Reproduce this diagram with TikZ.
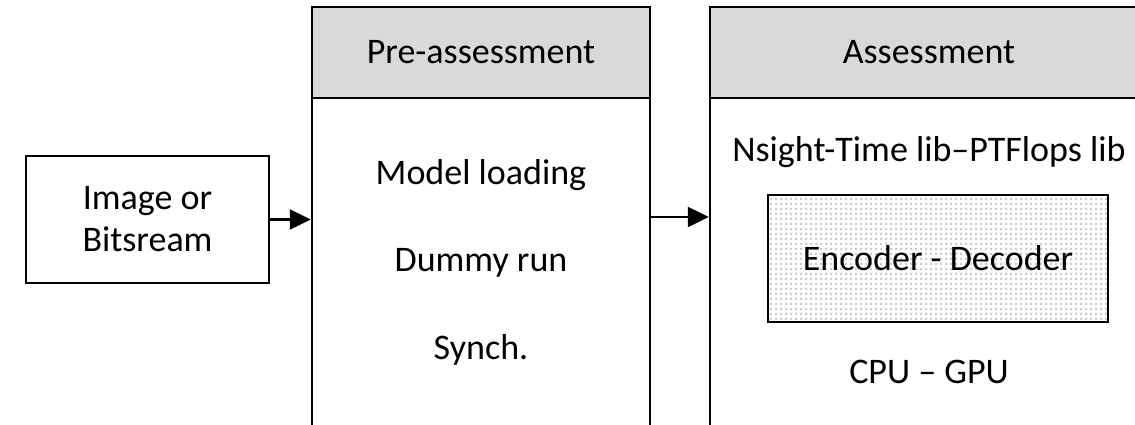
\documentclass[tikz,border=0pt]{standalone}
\usepackage{fontspec}
\setmainfont{Carlito}
\usetikzlibrary{arrows.meta,patterns.meta}
\tikzdeclarepattern{name=smalldots,type=uncolored,bounding box={(0pt,0pt) and (5pt,5pt)},tile size={(5pt,5pt)},code={\fill (0pt,0pt) rectangle (2.5pt,2.5pt);}}
\begin{document}
\begin{tikzpicture}[x=1pt,y=-1pt,
  every node/.style={font=\fontsize{36}{42}\selectfont, inner sep=0pt},
  frame/.style={draw=black, line width=2.5pt},
  hdr/.style={frame, fill=black!15, minimum height=91pt},
  colbody/.style={frame, fill=white},
  inbox/.style={frame, fill=white, align=center},
  dotbox/.style={frame, fill=white, pattern=smalldots, pattern color=black!20},
  flow/.style={line width=2.5pt, -{Triangle[length=21pt,width=20pt]}}]
\useasboundingbox (0,0) rectangle (1135,424);
\clip (0,0) rectangle (1135,424);
% input box
\node[inbox, minimum width=243pt, minimum height=127pt] (inp) at (147.5,219.5) {Image or\\Bitsream};
% pre-assessment column
\node[colbody, minimum width=338pt, minimum height=345pt] (preb) at (481,270.5) {};
\node[hdr, minimum width=338pt] (preh) at (481,52.5) {Pre-assessment};
\node (ml) at (481,175) {Model loading};
\node (dr) at (481,263) {Dummy run};
\node (sy) at (481,350) {Synch.};
% assessment column
\node[colbody, minimum width=438pt, minimum height=345pt] (asb) at (929,270.5) {};
\node[hdr, minimum width=438pt] (ash) at (929,52.5) {Assessment};
\node (ns) at (929,152) {Nsight-Time lib--PTFlops lib};
\node[dotbox, minimum width=340pt, minimum height=127pt] (enc) at (938,258.5) {};
\node (encl) at (enc.center) {Encoder - Decoder};
\node (cg) at (929,372) {CPU -- GPU};
% arrows
\draw[flow] (inp.east) -- (inp.east -| preb.west);
\draw[flow] (preb.east |- 0,217) -- (asb.west |- 0,217);
\end{tikzpicture}
\end{document}
